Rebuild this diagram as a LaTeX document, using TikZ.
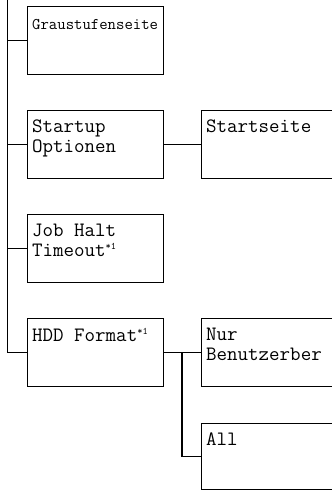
\documentclass[tikz,border=0pt]{standalone}
\tikzset{
  menubox/.style={draw, line width=1.3pt, minimum width=136pt, minimum height=68pt, anchor=north west, inner sep=0pt},
  widebox/.style={menubox, minimum width=170pt},
  menutext/.style={anchor=north west, inner sep=0pt, align=left, font=\fontsize{20.4}{20}\selectfont\ttfamily},
  smalltext/.style={menutext, font=\fontsize{16.3}{16}\selectfont\ttfamily},
  line/.style={line width=1.3pt}
}
\newcommand{\fn}{\textsuperscript{\fontsize{10}{10}\selectfont *1}}
\begin{document}
\begin{tikzpicture}[x=1pt, y=-1pt]
    \useasboundingbox (0,0) rectangle (332,491);
    \clip (0,0) rectangle (332,491);

    % Kästen links
    \node[menubox] (grau) at (27,6) {};
    \node[menubox] (start) at (27,110) {};
    \node[menubox] (job) at (27,214) {};
    \node[menubox] (hdd) at (27,318) {};

    % Kästen rechts
    \node[widebox] (seite) at (201,110) {};
    \node[widebox] (nur) at (201,318) {};
    \node[widebox, minimum height=66pt] (all) at (201,423) {};

    % Beschriftung
    \node[smalltext] (tgrau) at ([shift={(5,13)}]grau.north west) {Graustufenseite};
    \node[menutext] (tstart) at ([shift={(5,10)}]start.north west) {Startup\\Optionen};
    \node[menutext] (tjob) at ([shift={(5,10)}]job.north west) {Job Halt\\Timeout\fn};
    \node[menutext] (thdd) at ([shift={(5,10)}]hdd.north west) {HDD Format\fn};
    \node[menutext] (tseite) at ([shift={(5,10)}]seite.north west) {Startseite};
    \node[menutext] (tnur) at ([shift={(5,10)}]nur.north west) {Nur\\Benutzerber};
    \node[menutext] (tall) at ([shift={(5,10)}]all.north west) {All};

    % Verbindungslinien
    \coordinate (top) at (7.5,0);
    \draw[line] (top) |- (hdd.west);
    \draw[line] (top |- grau.west) -- (grau.west);
    \draw[line] (top |- start.west) -- (start.west);
    \draw[line] (top |- job.west) -- (job.west);
    \draw[line] (start.east) -- (seite.west);
    \draw[line] (hdd.east) -- (nur.west);
    \coordinate (knick) at (182,0);
    \draw[line] (knick |- nur.west) |- (all.west);

\end{tikzpicture}
\end{document}
